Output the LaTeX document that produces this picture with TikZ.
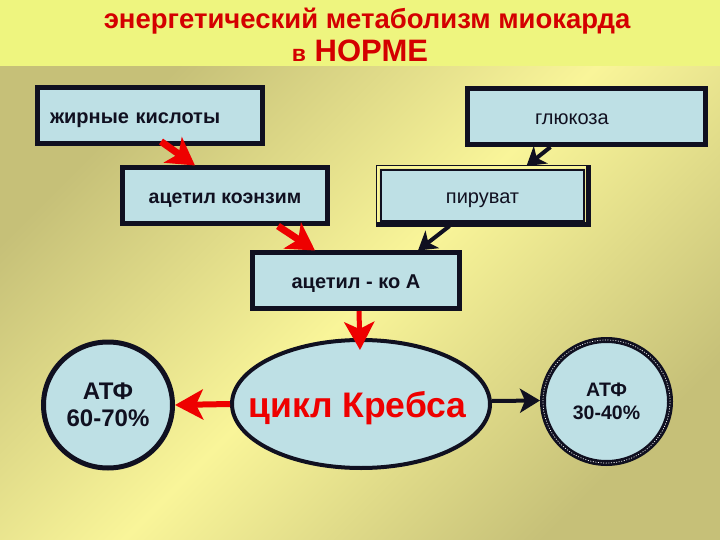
\documentclass[tikz,border=0pt]{standalone}
\usepackage{fontspec}
\setmainfont{Liberation Sans}
\usetikzlibrary{arrows.meta,shapes.geometric,calc}
\definecolor{bandcol}{HTML}{EEF57F}
\definecolor{olivecol}{HTML}{C6C078}
\definecolor{lightcol}{HTML}{F9F599}
\definecolor{boxfill}{HTML}{BEE0E5}
\definecolor{titlered}{HTML}{D40000}
\definecolor{arrred}{HTML}{EE0000}
\definecolor{ink}{HTML}{101020}
\tikzset{
  box/.style={draw=ink, fill=boxfill, line width=5pt, rectangle, inner ysep=0pt, minimum height=56pt, text=ink, text height=16pt, text depth=0pt},
  roundbox/.style={draw=ink, fill=boxfill, line width=5pt, ellipse, inner sep=0pt, text=ink, align=center},
  redarr/.style={draw=arrred, line width=7pt, -{Stealth[length=27pt,width=31pt,inset=7pt]}},
  blackarr/.style={draw=ink, line width=4pt, -{Stealth[length=18pt,width=22pt,inset=5pt]}},
}
\begin{document}
\begin{tikzpicture}[x=1pt,y=-1pt]
\useasboundingbox (0,0) rectangle (720,540);
% background
\shade[top color=olivecol, bottom color=olivecol, middle color=lightcol, shading angle=45] (0,66) rectangle (720,540);
\fill[bandcol] (0,0) rectangle (720,66);
% title
\node[text=titlered, font=\bfseries\fontsize{27.5}{30}\selectfont] (t1) at (367,21) {энергетический метаболизм миокарда};
\node[text=titlered, font=\bfseries\fontsize{31}{36}\selectfont] (t2) at (360,51) {{\fontsize{23}{28}\selectfont в} НОРМЕ};
% boxes
\node[box, minimum width=225pt, text width=200pt, inner xsep=12.5pt, align=left, font=\bfseries\fontsize{20}{24}\selectfont] (fa) at (150,116) {жирные кислоты};
\node[box, minimum width=238pt, text width=103pt, inner xsep=67.5pt, align=left, font=\fontsize{20}{24}\selectfont] (glu) at (586.5,116.5) {глюкоза};
\node[box, minimum width=205pt, font=\bfseries\fontsize{19.5}{24}\selectfont] (ack) at (225,195.5) {ацетил коэнзим};
\node[box, line width=2pt, minimum width=203pt, minimum height=51pt, font=\fontsize{20}{24}\selectfont] (pyr) at (482.5,195.5) {пируват};
\draw[lightcol, line width=2.4pt] ([shift={(-2.2,-2.2)}]pyr.north west) rectangle ([shift={(2.2,2.2)}]pyr.south east);
\draw[ink, line width=1.3pt] ([shift={(-3.6,-3.6)}]pyr.north west) rectangle ([shift={(3.6,3.6)}]pyr.south east);
\draw[ink, line width=5pt] ([shift={(-4.2,3)}]pyr.south west) -- ([shift={(3,3)}]pyr.south east) -- ([shift={(3,-4.2)}]pyr.north east);
\node[box, minimum width=207pt, font=\bfseries\fontsize{20}{24}\selectfont] (aca) at (356,280.5) {ацетил - ко А};
% ellipses
\node[roundbox, line width=4pt, minimum width=258pt, minimum height=128pt] (kreb) at (361,404) {};
\node[text=arrred, font=\bfseries\fontsize{35.5}{40}\selectfont, inner sep=0pt] (krebtext) at (357.5,408) {цикл Кребса};
\node[roundbox, minimum width=129pt, minimum height=126pt, font=\bfseries\fontsize{24}{27}\selectfont] (atp1) at (108,405) {АТФ\\60-70\%};
\node[roundbox, line width=6pt, minimum width=127pt, minimum height=123pt, font=\bfseries\fontsize{19.5}{23}\selectfont] (atp2) at (606.5,401.5) {АТФ\\30-40\%};
\draw[white, line width=0.7pt, dash pattern=on 1pt off 1.6pt] (atp2.center) ellipse [x radius=63.5pt, y radius=61.5pt];
% arrows
\draw[redarr] ([shift={(11,-5)}]fa.south) -- ([shift={(-30,0.5)}]ack.north);
\draw[redarr] ([shift={(53,0)}]ack.south) -- ([shift={(-41,0.5)}]aca.north);
\draw[blackarr] ([shift={(-36,0)}]glu.south) -- ([shift={(44,-3)}]pyr.north);
\draw[blackarr] ([shift={(-33,4)}]pyr.south) -- ([shift={(62,0.5)}]aca.north);
\draw[draw=arrred, line width=5pt, -{Stealth[length=28pt,width=30pt,inset=7pt]}] ([xshift=3pt]aca.south) -- ([shift={(-1,12)}]kreb.north);
\draw[draw=arrred, line width=6pt, -{Stealth[length=28pt,width=30pt,inset=7pt]}] (kreb.west) -- (atp1.east);
\draw[draw=ink, line width=4pt, -{Stealth[length=20pt,width=24pt,inset=5pt]}] ([yshift=3pt]kreb.east) -- ([yshift=1pt]atp2.west);
\end{tikzpicture}
\end{document}
